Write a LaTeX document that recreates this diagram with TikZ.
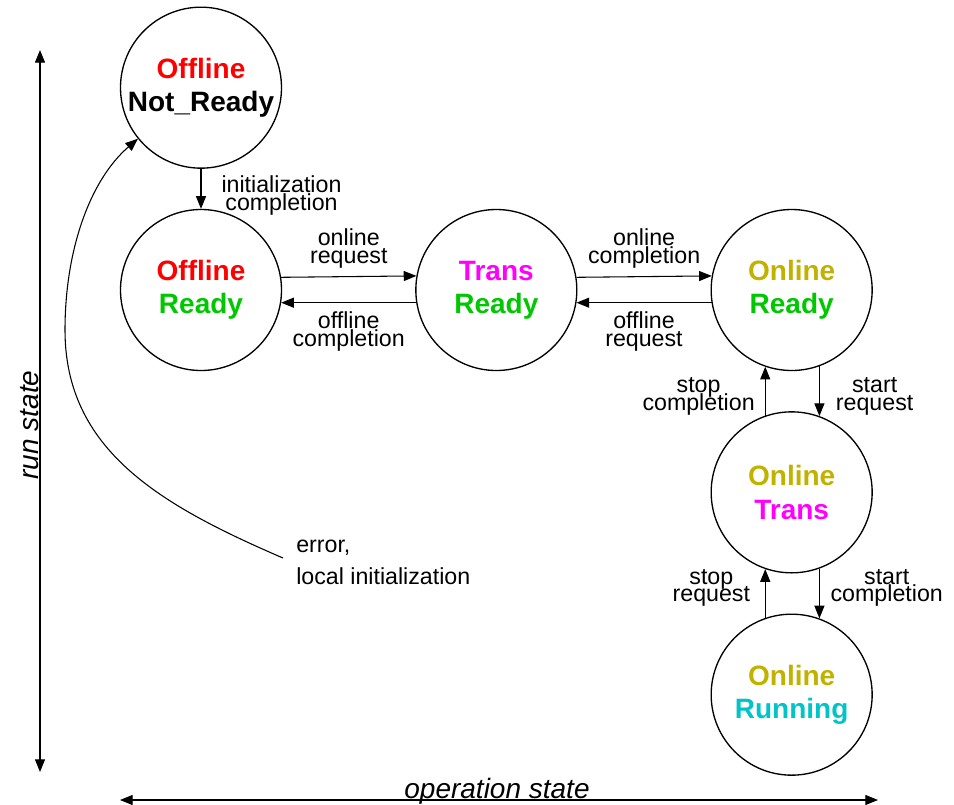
\documentclass[tikz,border=0pt]{standalone}
\usepackage{fontspec}
\setmainfont{Liberation Sans}
\usetikzlibrary{arrows.meta,positioning}
\definecolor{offred}{HTML}{FF0000}
\definecolor{rdygreen}{HTML}{00C800}
\definecolor{transpink}{HTML}{FF00FF}
\definecolor{onolive}{HTML}{C2B200}
\definecolor{runcyan}{HTML}{00C4C8}
\newcommand{\lblfont}{\fontsize{17.4}{13}\selectfont\lineskiplimit=-20pt\relax}
\newcommand{\errfont}{\fontsize{17.4}{24}\selectfont}

\begin{document}
\begin{tikzpicture}[x=0.75pt, y=-0.75pt,
  state/.style={circle, draw, line width=1pt, minimum size=120.75pt, inner sep=0pt,
                align=center, font=\fontsize{21}{25}\selectfont\bfseries},
  flow/.style={-{Triangle[length=9.5pt, width=7.5pt]}, line width=0.8pt},
  axis/.style={{Triangle[length=9.5pt, width=7.5pt]}-{Triangle[length=9.5pt, width=7.5pt]},
               line width=0.8pt},
  trans/.style={font=\lblfont, align=center, inner sep=0pt},
  axislabel/.style={font=\fontsize{21}{25}\selectfont\itshape, inner sep=0pt},
]
  \useasboundingbox (0,0) rectangle (954,804);

  % states
  \node[state] (or) at (201,290) {\textcolor{offred}{Offline}\\\textcolor{rdygreen}{Ready}};
  \node[state, above=30pt of or] (nr) {\textcolor{offred}{Offline}\\Not\_Ready};
  \node[state, right=99.75pt of or] (tr) {\textcolor{transpink}{Trans}\\\textcolor{rdygreen}{Ready}};
  \node[state, right=99.75pt of tr] (onr) {\textcolor{onolive}{Online}\\\textcolor{rdygreen}{Ready}};
  \node[state, below=30pt of onr] (ont) {\textcolor{onolive}{Online}\\\textcolor{transpink}{Trans}};
  \node[state, below=30pt of ont] (run) {\textcolor{onolive}{Online}\\\textcolor{runcyan}{Running}};

  % transitions
  \draw[flow] (nr) -- node[trans, right=15pt, yshift=-5pt] {initialization\\completion} (or);
  \draw[flow] (or.9.4) -- node[trans, above=6pt] {online\\request} (tr.170.6);
  \draw[flow] (tr.189.4) -- node[trans, below=6.5pt] {offline\\completion} (or.-9.4);
  \draw[flow] (tr.9.4) -- node[trans, above=6pt] {online\\completion} (onr.170.6);
  \draw[flow] (onr.189.4) -- node[trans, below=6.5pt] {offline\\request} (tr.-9.4);
  \draw[flow] (onr.-70.3) -- node[trans, right=12pt, yshift=-4pt] {start\\request} (ont.70.3);
  \draw[flow] (ont.109.7) -- node[trans, left=7.5pt, yshift=-4pt] {stop\\completion} (onr.-109.7);
  \draw[flow] (ont.-70.3) -- node[trans, right=8pt, yshift=4pt] {start\\completion} (run.70.3);
  \draw[flow] (run.109.7) -- node[trans, left=11pt, yshift=4pt] {stop\\request} (ont.-109.7);

  % error path back to not ready
  \coordinate (errstart) at (283,558);
  \node[trans, align=left, anchor=base west, font=\errfont] (errtxt) at (296,584) {error,\\local initialization};
  \draw[flow] (errstart) .. controls (160,505) and (65,450) .. (65,330)
              .. controls (65,250) and (90,180) .. (nr.219);

  % axes
  \coordinate (runtop) at (40,50);
  \coordinate (runbot) at (40,772);
  \draw[axis] (runbot) -- (runtop);
  \node[axislabel, rotate=90] (runlbl) at (30,425) {run state};
  \coordinate (opleft) at (120,800);
  \coordinate (opright) at (878,800);
  \draw[axis] (opleft) -- (opright);
  \node[axislabel, anchor=base] (oplbl) at (497,798) {operation state};
\end{tikzpicture}
\end{document}
